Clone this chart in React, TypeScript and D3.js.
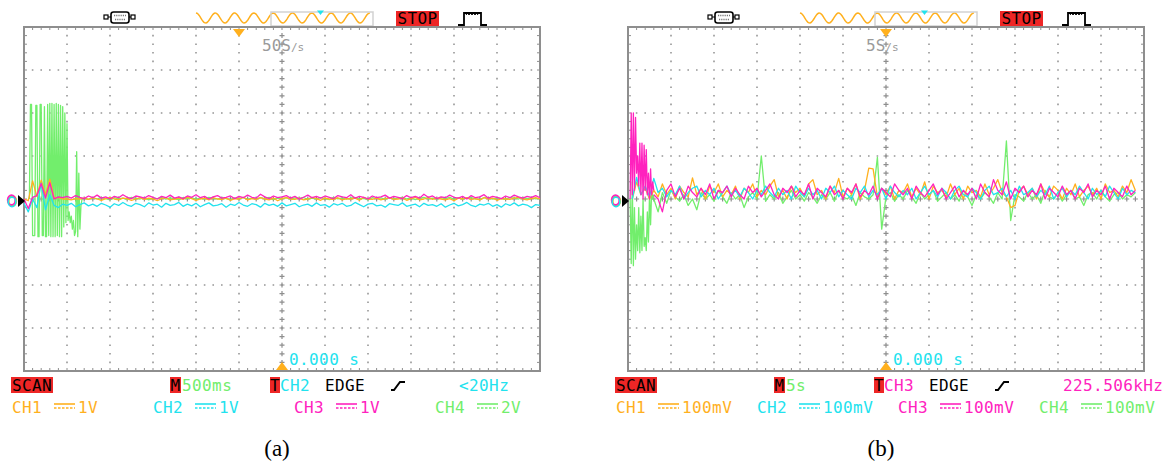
import React from "react";
import * as d3 from "d3";

// sample spacing in screen divisions
const STEP = 0.1;
const FINE = 0.025;

// ---- (a) traces, values in mV
const orangeA = [
  0, -40, 420, 60, 440, 100, 460, 40, 30, 0,
  0, -20, 10, 0, 20, -10, 30, 0, -30, 10,
  40, 0, -20, 20, 10, -30, 0, 30, -10, 20,
  0, -40, 10, 30, -20, 0, 20, -10, 40, 10,
  -30, 0, 20, -20, 30, 0, -10, 20, -30, 10,
  0, 40, -20, 10, -10, 30, 0, -20, 20, -40,
  10, 30, 0, -10, 20, -20, 0, 40, 10, -30,
  20, 0, -10, 30, -20, 10, 0, 20, -30, 40,
  0, -10, 20, -20, 10, 30, -10, 0, 20, -30,
  10, 40, -20, 0, 30, -10, 20, 0, -20, 10,
  -40, 20, 0, 30, -10, 10, -20, 30, 0, 20,
  -30, 10, 0, -10, 20, 40, 0, -20, 10, 30,
  0,
];
const cyanA = [
  -100, -300, 0, -200, 370, -250, 100, -150, -200, -120,
  -150, -100, -180, -130, -90, -160, -120, -170, -100, -140,
  -190, -110, -150, -80, -140, -170, -100, -130, -180, -90,
  -140, -120, -190, -100, -150, -130, -80, -170, -120, -160,
  -100, -180, -130, -90, -160, -140, -110, -190, -120, -150,
  -80, -140, -170, -110, -130, -190, -100, -150, -120, -170,
  -90, -160, -130, -100, -180, -140, -120, -170, -90, -150,
  -130, -190, -110, -140, -100, -170, -150, -80, -130, -180,
  -120, -100, -160, -140, -190, -110, -130, -150, -90, -170,
  -140, -120, -180, -100, -150, -130, -170, -110, -190, -140,
  -100, -160, -130, -80, -150, -180, -120, -140, -100, -170,
  -130, -190, -110, -150, -90, -160, -120, -140, -200, -130,
  -150,
];
const magentaA = [
  0, -220, 40, 80, 360, 20, 380, 0, 50, 30,
  60, 20, 80, 40, 10, 70, 30, 90, 20, 50,
  0, 60, 30, 100, 40, 10, 70, 50, 20, 80,
  40, 0, 60, 30, 90, 20, 50, 10, 70, 40,
  100, 30, 60, 0, 50, 80, 20, 40, 70, 10,
  60, 30, 90, 40, 20, 110, 50, 10, 70, 30,
  50, 80, 20, 60, 0, 40, 90, 30, 60, 20,
  70, 40, 10, 80, 50, 30, 100, 20, 60, 40,
  0, 70, 30, 50, 90, 20, 60, 40, 10, 80,
  30, 60, 20, 110, 40, 70, 10, 50, 30, 90,
  40, 20, 60, 0, 80, 30, 50, 100, 20, 60,
  40, 10, 70, 30, 90, 50, 20, 60, 40, 80,
  30,
];
// CH4 burst, fine sampling from 0.125 div
const greenBurstA = [
  0, 4400, 4400, -1700, -1700, -1700, 4350, 4350, -1750, -1750,
  4400, 4400, -1700, -1700, 4300, -1750, -1750, 4400, -1700, 4450,
  -1750, 4450, -1750, 4400, -1750, 4450, -1700, 4400, -1750, 4350,
  -1750, 4300, -1300, 4000, -1100, 3500, -1000, -600, -1100, -800,
  -1400, -1000, -1700, -1500, 2200, -1750, 1200, -1400, -300, 0,
  40,
];
const greenA = [
  40, -20, 60, 0, 80, 20, -40, 60, 10, 40,
  -20, 80, 30, 0, 60, -40, 40, 20, 70, -10,
  50, 10, -30, 70, 20, 60, -20, 40, 0, 80,
  30, -10, 60, 20, -40, 50, 10, 70, -20, 40,
  0, 60, 20, 80, -30, 40, 10, 60, -10, 50,
  30, 70, -20, 40, 0, 60, 20, -30, 80, 10,
  50, -10, 40, 70, 0, 30, -40, 60, 20, 50,
  -20, 60, 10, 40, 80, 0, 50, -30, 30, 70,
  10, 40, -10, 60, 20, 80, -20, 50, 0, 40,
  60, 10, -30, 70, 30, 0, 50, 20, -20, 60,
  40, 0, 70, 20, 50, 10, 30,
];

// ---- (b) traces, values in mV
const orangeB = [
  0, 40, 10, 25, 0,
  20, 5, 35, 10, 25, 0, 30, 15, 5, 49,
  10, 25, 0, 30, 15, 35, 5, 20, 10, 30,
  0, 25, 15, 35, 5, 20, 10, 30, 45, 5,
  20, 0, 30, 15, 25, 5, 35, 45, 10, 20,
  0, 30, 15, 48, 5, 25, 10, 35, 0, 20,
  72, 70, 5, 25, 10, 30, 0, 20, 15, 35,
  5, 25, 10, 40, 0, 30, 15, 20, 5, 35,
  10, 25, 0, 30, 15, 20, 5, 35, 10, 25,
  45, 15, 5, -20, -15, 20, 30, 10, 25, 0,
  35, 15, 5, 30, 20, 0, 25, 10, 35, 5,
  20, 30, 10, 25, 0, 35, 15, 20, 5, 30,
  15, 45, 20,
];
const cyanB = [
  0, 50, 10, 30, 5,
  48, 15, 25, 5, 20, 10, 30, 0, 15, 25,
  30, 5, 20, 10, 25, 0, 15, 30, 10, 20,
  5, 25, 15, 0, 20, 10, 30, 15, 5, 25,
  10, 20, 0, 30, 15, 5, 25, 10, 20, 0,
  25, 15, 30, 5, 20, 10, 0, 25, 15, 30,
  5, 20, 10, 25, 0, 30, 15, 5, 20, 10,
  25, 0, 15, 30, 10, 20, 5, 25, 15, 0,
  20, 30, 10, 5, 25, 15, 0, 20, 30, 10,
  15, 25, 5, 20, 0, 30, 10, 15, 25, 5,
  20, 10, 30, 0, 15, 25, 5, 20, 10, 30,
  15, 0, 25, 10, 20, 5, 30, 15, 0, 25,
  10, 20, 15,
];
const magentaBurstB = [
  0, 200, 10, 200, 20, 190, 60, 100, 30, 130,
  10, 130, 0, 125, 20, 115, 10, 60, 0, 70,
  10, 40, 20,
];
const magentaB = [
  10, 0, -30, 20, 35, 5, 25, 0, 30, 15,
  5, 25, 10, 35, 0, 20, 15, 30, 5, 25,
  10, 0, 30, 15, 25, 5, 20, 35, 10, 0,
  25, 15, 30, 5, 20, 10, 35, 0, 25, 15,
  5, 30, 10, 20, 0, 25, 15, 35, 5, 20,
  10, 30, 0, 25, 15, 5, 35, 20, 10, 25,
  0, 30, 15, 5, 20, 35, 10, 25, 0, 15,
  30, 5, 20, 10, 25, 0, 35, 15, 5, 45,
  20, 10, 40, 0, 25, 15, 30, 5, 20, 10,
  35, 0, 25, 15, 5, 30, 10, 20, 0, 25,
  15, 35, 5, 20, 10, 30, 0, 25, 15, 5,
  30, 10, 20,
];
const greenBurstB = [
  0, -150, 40, -155, -20, -140, -60, -120, -20, -125,
  -40, -120, 0, -110, -90, -120, -30, -100, 10, -60,
  20, 0, 10,
];
const greenB = [
  0, -30, 15, -10, 20, 5, -5, 10, -15, 0,
  -25, 15, 0, 10, -5, 20, 5, -10, 15, 0,
  10, -20, 5, 15, 0, 100, -5, 10, 0, 15,
  -10, 5, 20, 0, 10, -5, 15, 5, -10, 10,
  0, 15, -5, 20, 5, 0, 10, -15, 15, 5,
  0, 10, 97, -70, 5, 15, -5, 10, 0, 20,
  5, -10, 15, 0, 10, 20, -5, 5, 15, 0,
  10, -5, 20, 5, -15, 10, 0, 15, 5, -10,
  15, 0, 135, -50, 10, 5, -5, 15, 0, 10,
  -10, 20, 5, 0, 15, -5, 10, 20, 0, 5,
  -15, 10, 15, 0, 20, 5, -5, 10, 15, 0,
  10, 5, 15,
];

// readouts
const captions = ["(a)", "(b)"];
const sampleRates = ["50S", "5S"];
const timebases = ["500ms", "5s"];
const trigSources = ["CH2", "CH3"];
const freqReadouts = ["<20Hz", "225.506kHz"];
const chNames = ["CH1", "CH2", "CH3", "CH4"];
const chScales = [
  ["1V", "1V", "1V", "2V"],
  ["100mV", "100mV", "100mV", "100mV"],
];
const mvPerDiv = [
  [1000, 1000, 1000, 2000],
  [100, 100, 100, 100],
];
const trigPos = [5, 6];

const COLORS = ["#FFB01E", "#22E2EE", "#FF22BE", "#72EE6C"];
const RED = "#EE2626";
const GRID = "#8e8e8e";
const MONO = "'DejaVu Sans Mono', monospace";

// [channel index, start time (div), spacing, values]
const traces: [number, number, number, number[]][][] = [
  [
    [3, 0.125, FINE, greenBurstA],
    [3, 1.4, STEP, greenA],
    [0, 0, STEP, orangeA],
    [1, 0, STEP, cyanA],
    [2, 0, STEP, magentaA],
  ],
  [
    [3, 0.05, FINE, greenBurstB],
    [3, 0.6, STEP, greenB],
    [0, 0.1, STEP, orangeB],
    [1, 0.1, STEP, cyanB],
    [2, 0.05, FINE, magentaBurstB],
    [2, 0.6, STEP, magentaB],
  ],
];

const DIV = 43;
const LEFT = 24;
const TOP = 27;
const PANEL_DX = [0, 604];

const Panel = ({ k }: { k: number }) => {
  const dx = PANEL_DX[k];
  const x = d3.scaleLinear().domain([0, 12]).range([LEFT + dx, LEFT + dx + 12 * DIV]);
  const y = d3.scaleLinear().domain([-4, 4]).range([TOP + 8 * DIV, TOP]);
  const [x0, x1] = x.range();
  const [y0, y1] = [y(4), y(-4)];

  const minX = d3.range(0, 60.5).map((i) => i / 5);
  const minY = d3.range(0, 40.5).map((i) => i / 5 - 4);

  // grid dots
  let dots = "";
  d3.range(1, 12).filter((i) => i !== 6).forEach((i) => {
    minY.slice(1, -1).forEach((v) => {
      dots += `M${x(i) - 0.8},${y(v) - 0.8}h1.6v1.6h-1.6z`;
    });
  });
  d3.range(-3, 4).filter((j) => j !== 0).forEach((j) => {
    minX.slice(1, -1).forEach((u) => {
      dots += `M${x(u) - 0.8},${y(j) - 0.8}h1.6v1.6h-1.6z`;
    });
  });
  // center crosses
  let crosses = "";
  minY.slice(1, -1).forEach((v) => {
    crosses += `M${x(6) - 2.5},${y(v)}h5M${x(6)},${y(v) - 2.5}v5`;
  });
  minX.slice(1, -1).forEach((u) => {
    crosses += `M${x(u) - 2.5},${y(0)}h5M${x(u)},${y(0) - 2.5}v5`;
  });
  // border ticks
  let ticks = "";
  minX.forEach((u) => {
    ticks += `M${x(u)},${y0}v3M${x(u)},${y1}v-3`;
  });
  minY.forEach((v) => {
    ticks += `M${x0},${y(v)}h3M${x1},${y(v)}h-3`;
  });

  const wave = d3.line()(
    d3.range(0, 175).map((u) => [196 + dx + u, 18 - 5 * Math.cos((u / 19.3) * 2 * Math.PI)] as [number, number])
  );

  const trigColor = COLORS[k === 0 ? 1 : 2];
  const tt = x(trigPos[k]);
  const tc = x(6);

  return (
    <g>
      {/* top status icons */}
      <rect x={104 + dx} y={15} width={4} height={4} fill="none" stroke="#000" strokeWidth={1.2} />
      <rect x={131 + dx} y={15} width={4} height={4} fill="none" stroke="#000" strokeWidth={1.2} />
      <path d={`M${108 + dx},17h3M${129 + dx},17h2`} stroke="#000" strokeWidth={1.2} />
      <rect x={111 + dx} y={12} width={18} height={11} rx={2.5} fill="#fff" stroke="#000" strokeWidth={1.6} />
      <path
        d={`M${114 + dx},15.5h12M${115 + dx},19.5h10`}
        stroke="#777"
        strokeWidth={1.3}
        strokeDasharray="1.2 1"
      />
      <path d={wave ?? ""} fill="none" stroke={COLORS[0]} strokeWidth={1.5} />
      <rect x={271 + dx} y={12} width={102} height={14} fill="none" stroke="#d2d2d2" strokeWidth={1.5} />
      <path d={`M${317 + dx},10.5h7l-3.5,4.5z`} fill={COLORS[1]} />
      <rect x={396 + dx} y={11} width={43} height={15} fill={RED} />
      <text x={397.5 + dx} y={24} fontFamily={MONO} fontSize={16} letterSpacing={0.4} fill="#000">
        STOP
      </text>
      <path
        d={`M${458 + dx},25H${464 + dx}V13H${481 + dx}V25H${487 + dx}`}
        fill="none"
        stroke="#000"
        strokeWidth={1.8}
      />
      <path
        d={`M${466 + dx},15l1.5,-2l1.5,2l1.5,-2l1.5,2l1.5,-2l1.5,2l1.5,-2l1.5,2`}
        fill="none"
        stroke="#000"
        strokeWidth={1}
      />

      {/* graticule */}
      <path d={dots} fill="#979797" />
      <path d={crosses} stroke={GRID} strokeWidth={1.2} />
      <path d={ticks} stroke={GRID} strokeWidth={1} />
      <rect x={x0} y={y0} width={x1 - x0} height={y1 - y0} fill="none" stroke={GRID} strokeWidth={2} />

      <text x={262 + dx} y={51} fontFamily={MONO} fontSize={16} fill="#9a9a9a">
        {sampleRates[k]}
        <tspan fontSize={11}>/s</tspan>
      </text>

      {/* traces */}
      {traces[k].map(([ch, t0, step, vals], i) => {
        const line = d3
          .line<number>()
          .x((_, j) => x(t0 + j * step))
          .y((v) => y(v / mvPerDiv[k][ch]));
        return (
          <path
            key={i}
            d={line(vals) ?? ""}
            fill="none"
            stroke={COLORS[ch]}
            strokeWidth={1.3}
            strokeLinejoin="round"
          />
        );
      })}

      {/* ground markers */}
      <ellipse cx={12.5 + dx} cy={201} rx={3.8} ry={4.8} fill="none" stroke={COLORS[0]} strokeWidth={1.8} />
      <ellipse cx={12 + dx} cy={201} rx={3.8} ry={4.8} fill="none" stroke={COLORS[3]} strokeWidth={1.8} />
      <ellipse cx={11.5 + dx} cy={200} rx={3.8} ry={4.8} fill="none" stroke={COLORS[2]} strokeWidth={1.8} />
      <ellipse cx={12 + dx} cy={202} rx={3.8} ry={4.8} fill="none" stroke={COLORS[1]} strokeWidth={1.5} />
      <path d={`M${18 + dx},195L${25 + dx},201L${18 + dx},207z`} fill="#000" />

      {/* trigger markers */}
      <path d={`M${tt - 6},29h12l-6,8z`} fill={COLORS[0]} />
      <path d={`M${tc - 6},${y1 - 1}h12l-6,-8z`} fill={COLORS[0]} />
      <text x={tc + 7} y={365} fontFamily={MONO} fontSize={16} letterSpacing={0.4} fill={COLORS[1]}>
        0.000 s
      </text>

      {/* readout row 1 */}
      <g fontFamily={MONO} fontSize={16} letterSpacing={0.4}>
        <rect x={11 + dx} y={377} width={42} height={16} fill={RED} />
        <text x={12 + dx} y={391} fill="#000">SCAN</text>
        <rect x={170 + dx} y={377} width={11} height={16} fill={RED} />
        <text x={170.5 + dx} y={391} fill="#000">M</text>
        <text x={182 + dx} y={391} fill={COLORS[3]}>{timebases[k]}</text>
        <rect x={270 + dx} y={377} width={10} height={16} fill={RED} />
        <text x={270 + dx} y={391} fill="#000">T</text>
        <text x={280 + dx} y={391} fill={trigColor}>{trigSources[k]}</text>
        <text x={325 + dx} y={391} fill="#000">EDGE</text>
        <path
          d={`M${391 + dx},390h3l6,-8h5`}
          fill="none"
          stroke="#000"
          strokeWidth={2}
        />
        <text x={459 + dx} y={391} fill={trigColor}>{freqReadouts[k]}</text>

        {/* readout row 2 */}
        {chNames.map((name, c) => {
          const cx = 12 + c * 141 + dx;
          return (
            <g key={name}>
              <text x={cx} y={413} fill={COLORS[c]}>{name}</text>
              <path d={`M${cx + 42},404h21`} stroke={COLORS[c]} strokeWidth={1.6} />
              <path d={`M${cx + 42},408h21`} stroke={COLORS[c]} strokeWidth={1.6} strokeDasharray="2.5 1.5" />
              <text x={cx + 66} y={413} fill={COLORS[c]}>{chScales[k][c]}</text>
            </g>
          );
        })}
      </g>

      <text
        x={tc - 5}
        y={456}
        textAnchor="middle"
        fontFamily="'Liberation Serif', serif"
        fontSize={23}
        fill="#000"
      >
        {captions[k]}
      </text>
    </g>
  );
};

const App = () => {
  return (
    <svg
      width={1170}
      height={462}
      style={{ position: "absolute", left: 0, top: 0, display: "block", background: "#fff" }}
    >
      <rect width={1170} height={462} fill="#fff" />
      <Panel k={0} />
      <Panel k={1} />
    </svg>
  );
};

export default App;
